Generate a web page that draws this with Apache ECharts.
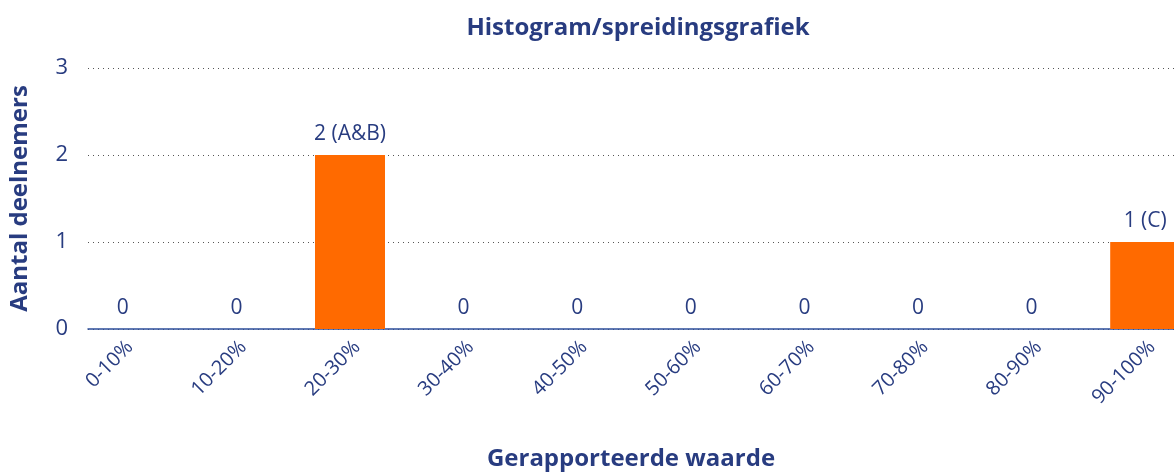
<!DOCTYPE html>
<html>
<head>
<meta charset="utf-8">
<script src="https://cdn.jsdelivr.net/npm/echarts@6/dist/echarts.min.js"></script>
<style>html,body{margin:0;padding:0;background:#fff}#c{width:1174px;height:472px}</style>
</head>
<body>
<div id="c"></div>
<script>
const categories = ['0-10%','10-20%','20-30%','30-40%','40-50%','50-60%','60-70%','70-80%','80-90%','90-100%'];
const counts = [0,0,2,0,0,0,0,0,0,1];
const participants = ['','','A&B','','','','','','','C'];
const yTicks = [0,1,2,3];

const txt = '#283c80';
const font = '"Open Sans", "Noto Sans", sans-serif';
const chart = echarts.init(document.getElementById('c'));
chart.setOption({
  animation: false,
  textStyle: { fontFamily: font },
  title: {
    text: 'Histogram/spreidingsgrafiek', left: 633, top: 11, textAlign: 'center',
    textStyle: { color: txt, fontSize: 24, fontWeight: 'bold', fontFamily: font }
  },
  grid: [
    { left: 88, width: 1086, top: 68, height: 261, outerBoundsMode: 'none', containLabel: false },
    { left: 66, width: 1136, top: 68, height: 261, outerBoundsMode: 'none', containLabel: false }
  ],
  xAxis: [
    {
      type: 'value', gridIndex: 0, min: 0, max: 1,
      axisLabel: { show: false }, axisTick: { show: false }, splitLine: { show: false },
      axisLine: { show: true, lineStyle: { color: '#2d4d9a', width: 1.5 } },
      name: 'Gerapporteerde waarde', nameLocation: 'middle', nameGap: 118,
      nameTextStyle: { color: txt, fontSize: 24, fontWeight: 'bold', fontFamily: font }
    },
    {
      type: 'category', gridIndex: 1, data: categories,
      axisLine: { show: false }, axisTick: { show: false },
      axisLabel: { color: txt, fontSize: 20, rotate: 45, interval: 0, margin: 8, verticalAlign: 'top', fontFamily: font }
    }
  ],
  yAxis: [
    {
      type: 'value', gridIndex: 0, min: yTicks[0], max: yTicks[yTicks.length-1], interval: 1,
      axisLine: { show: false }, axisTick: { show: false },
      axisLabel: { color: txt, fontSize: 22, margin: 20, fontFamily: font },
      splitLine: { show: true, lineStyle: { color: '#555', type: [1, 4], width: 1 } },
      name: 'Aantal deelnemers', nameLocation: 'middle', nameGap: 56, nameRotate: 90,
      nameTextStyle: { color: txt, fontSize: 24, fontWeight: 'bold', fontFamily: font }
    },
    {
      type: 'value', gridIndex: 1, min: yTicks[0], max: yTicks[yTicks.length-1], interval: 1,
      show: false
    }
  ],
  series: [{
    type: 'bar', xAxisIndex: 1, yAxisIndex: 1,
    data: counts, barWidth: 70,
    itemStyle: { color: '#ff6a00' },
    label: {
      show: true, position: 'top', distance: 10, color: txt, fontSize: 21, fontFamily: font,
      formatter: p => participants[p.dataIndex] ? p.value + ' (' + participants[p.dataIndex] + ')' : String(p.value)
    }
  }]
});
</script>
</body>
</html>
